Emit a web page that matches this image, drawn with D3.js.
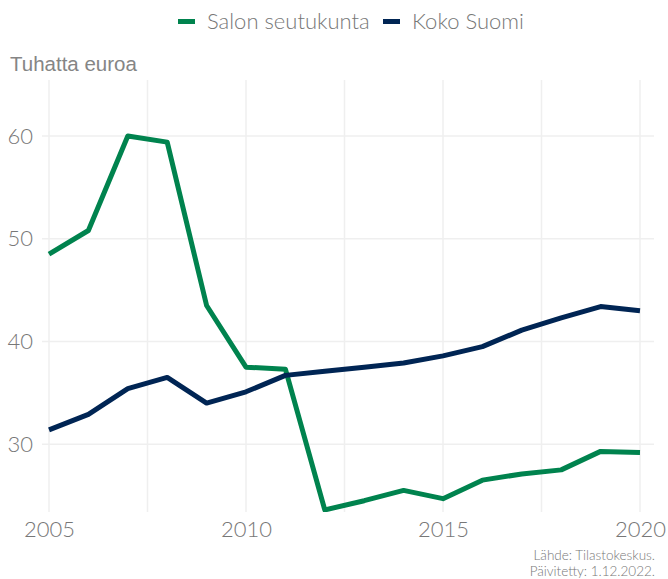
<!DOCTYPE html>
<html>
<head>
<meta charset="utf-8">
<script src="https://cdn.jsdelivr.net/npm/d3@7"></script>
<style>
  body { margin: 0; background: #fff; }
  svg { display: block; }
</style>
</head>
<body>
<div id="chart"></div>
<script>
// data
var years = d3.range(2005, 2021);
var salo = [48.5, 50.8, 60.0, 59.4, 43.5, 37.5, 37.3, 23.6, 24.5, 25.5, 24.7, 26.5, 27.1, 27.5, 29.3, 29.2];
var suomi = [31.4, 32.9, 35.4, 36.5, 34.0, 35.1, 36.7, 37.1, 37.5, 37.9, 38.6, 39.5, 41.1, 42.3, 43.4, 43.0];
var seriesNames = ["Salon seutukunta", "Koko Suomi"];
var seriesColors = ["#00834e", "#002554"];
var xTicks = [2005, 2010, 2015, 2020];
var yTicks = [30, 40, 50, 60];

var svgWidth = 668, svgHeight = 579;
var panel = { left: 42, right: 654, top: 80, bottom: 512 };

var svg = d3.select("#chart").append("svg")
  .attr("width", svgWidth)
  .attr("height", svgHeight);

var x = d3.scaleLinear().domain([2005, 2020]).range([49, 640]);
var y = d3.scaleLinear().domain([23.4, 65.45]).range([panel.bottom, panel.top]);

// grid
var grid = svg.append("g");
grid.selectAll("line.v")
  .data(d3.range(2005, 2020.1, 2.5))
  .enter().append("line")
  .attr("x1", d => x(d)).attr("x2", d => x(d))
  .attr("y1", panel.top).attr("y2", panel.bottom)
  .attr("stroke", "#efefef").attr("stroke-width", 1.5);
grid.selectAll("line.h")
  .data(yTicks)
  .enter().append("line")
  .attr("x1", panel.left).attr("x2", panel.right)
  .attr("y1", d => y(d)).attr("y2", d => y(d))
  .attr("stroke", "#efefef").attr("stroke-width", 1.5);

// axes (text only)
var xAxis = svg.append("g")
  .attr("transform", `translate(0, ${panel.bottom})`)
  .call(d3.axisBottom(x).tickValues(xTicks).tickFormat(d3.format("d")).tickSize(0).tickPadding(9));
var yAxis = svg.append("g")
  .attr("transform", `translate(${panel.left}, 0)`)
  .call(d3.axisLeft(y).tickValues(yTicks).tickSize(0).tickPadding(9));
[xAxis, yAxis].forEach(function (a) {
  a.select(".domain").remove();
  a.selectAll("text")
    .style("font-family", "Lato")
    .style("font-weight", "300")
    .style("font-size", "22px")
    .style("fill", "#777");
});

// clip the lines to the panel
svg.append("clipPath").attr("id", "clip")
  .append("rect")
  .attr("x", panel.left).attr("y", panel.top)
  .attr("width", panel.right - panel.left).attr("height", panel.bottom - panel.top);

var line = d3.line()
  .x((d, i) => x(years[i]))
  .y(d => y(d));

var linesGroup = svg.append("g").attr("clip-path", "url(#clip)");
[salo, suomi].forEach(function (vals, i) {
  linesGroup.append("path")
    .datum(vals)
    .attr("d", line)
    .attr("fill", "none")
    .attr("stroke", seriesColors[i])
    .attr("stroke-width", 5)
    .attr("stroke-linejoin", "round");
});

// y-axis title
svg.append("text")
  .attr("x", 10).attr("y", 71)
  .style("font-family", "Liberation Sans")
  .style("font-size", "20.5px")
  .style("fill", "#858585")
  .text("Tuhatta euroa");

// legend
var legend = svg.append("g");
var legendX = [178, 383];
seriesNames.forEach(function (name, i) {
  legend.append("rect")
    .attr("x", legendX[i]).attr("y", 19)
    .attr("width", 17).attr("height", 5)
    .attr("fill", seriesColors[i]);
  legend.append("text")
    .attr("x", legendX[i] + 29).attr("y", 29)
    .style("font-family", "Lato")
    .style("font-weight", "300")
    .style("font-size", "22px")
    .style("fill", "#777")
    .text(name);
});

// caption
var caption = svg.append("g")
  .attr("text-anchor", "end")
  .style("font-family", "Lato")
  .style("font-weight", "300")
  .style("font-size", "13.5px")
  .style("fill", "#777");
caption.append("text").attr("x", 655).attr("y", 560).text("Lähde: Tilastokeskus.");
caption.append("text").attr("x", 655).attr("y", 576).text("Päivitetty: 1.12.2022.");
</script>
</body>
</html>
